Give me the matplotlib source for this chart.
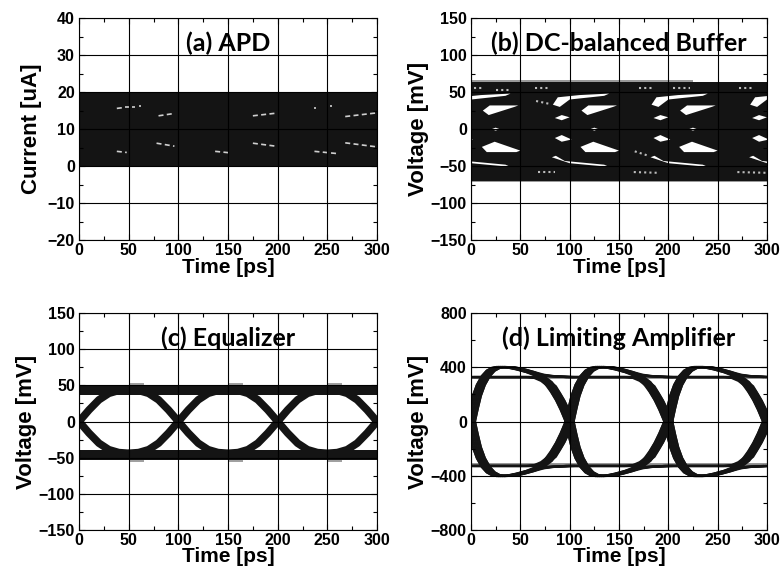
import numpy as np
import matplotlib.pyplot as plt
from matplotlib.ticker import MultipleLocator

plt.rcParams['font.family'] = ['Liberation Sans', 'DejaVu Sans']
plt.rcParams['font.weight'] = 'bold'

# axis ticks / texts
time_ticks = [0, 50, 100, 150, 200, 250, 300]
apd_ticks = [-20, -10, 0, 10, 20, 30, 40]
mv_ticks = [-150, -100, -50, 0, 50, 100, 150]
la_ticks = [-800, -400, 0, 400, 800]
titles = ["(a) APD", "(b) DC-balanced Buffer", "(c) Equalizer", "(d) Limiting Amplifier"]
ylabels = ["Current [uA]", "Voltage [mV]", "Voltage [mV]", "Voltage [mV]"]

# (a) APD - closed eye, one dark band with a few light specks
apd_band = [0, 20]
apd_speck_t = [[38, 44], [46, 50], [53, 56], [60, 62], [80, 95], [78, 96], [38, 48],
               [137, 152], [175, 198], [175, 198], [237, 239], [253, 255],
               [268, 300], [268, 300], [237, 260]]
apd_speck_v = [[15.6, 15.8], [16, 16], [16.1, 16.1], [16.3, 16.3], [13.6, 14.2], [6.2, 5.4], [4, 3.7],
               [4, 3.6], [13.6, 14.3], [6.2, 5.4], [15.8, 15.8], [16.2, 16.2],
               [13.4, 14.4], [6.3, 5.2], [4, 3.4]]

# (b) DC-balanced buffer - dark band with openings repeating every UI
buf_band = [-70, 63]
buf_offsets = [-100, 0, 100, 200]
buf_hole_t = [[12, 19, 48, 44, 18],        # upper wedge
              [11, 24, 50, 46, 16],        # lower wedge
              [83, 88, 110, 140, 135, 100, 90],
              [82, 100, 140, 135, 95, 86],
              [85, 92, 100, 92],
              [85, 92, 102, 92],
              [21, 25, 29, 25]]
buf_hole_v = [[25, 32, 32, 30, 19],
              [-24, -17, -29, -31, -31],
              [33, 43, 46, 48, 45, 40, 30],
              [-38, -46, -51, -48, -43, -36],
              [15, 19, 16, 12],
              [-12, -8, -14, -17],
              [0, 2, 0, -2]]
# faint dotted traces inside the band
buf_dot_t = [[3, 12], [25, 40], [65, 80], [170, 185], [205, 222], [272, 285],
             [68, 85], [165, 190], [270, 300], [66, 80], [166, 180]]
buf_dot_v = [[56, 56], [53, 53], [56, 56], [55, 55], [56, 56], [55, 55],
             [-58, -58], [-58, -59], [-58, -59], [38, 34], [-30, -36]]

# (c) equalizer - open eye, crossings every 100 ps
eq_rail_hi = [37, 50]
eq_rail_lo = [-53, -40]
eq_bump_t = [50, 150, 250]
eq_cross = [0, 100, 200, 300]
eq_edge_dt = [-50, -40, -30, -20, -10, 0, 10, 20, 30, 40, 50]
eq_edge_v = [-44, -43, -39, -30, -16, 0, 16, 30, 39, 43, 44]

# (d) limiting amplifier - one UI shapes (positive bit, negated for zeros)
la_ui_start = [0, 100, 200]
la_jitter = [-4, -2, 0, 2, 4]
la_rail = 328
la_lead_dt = [0, 3, 6, 10, 15, 20, 25, 30, 40, 50, 60, 70, 80, 100]
la_lead_v = [0, 100, 190, 270, 335, 375, 395, 402, 400, 385, 365, 345, 335, 328]
la_pulse_dt = [0, 3, 6, 10, 15, 20, 25, 30, 40, 50, 60, 70, 78, 85, 90, 95, 100]
la_pulse_v = [0, 100, 190, 270, 335, 375, 395, 402, 400, 385, 365, 335, 290, 220, 160, 85, 0]
la_trail_dt = [0, 60, 68, 75, 82, 87, 91, 95, 100]
la_trail_v = [328, 328, 322, 300, 260, 200, 150, 90, 0]

ink = '#141414'


def style(ax, yticks, title, ylabel, ylab_x):
    ax.set_xlim(0, 300)
    ax.set_ylim(yticks[0], yticks[-1])
    ax.set_xticks(time_ticks)
    ax.set_yticks(yticks)
    ax.xaxis.set_minor_locator(MultipleLocator(25))
    ax.yaxis.set_minor_locator(MultipleLocator((yticks[1] - yticks[0]) / 2))
    ax.tick_params(which='both', direction='in', top=True, right=True, labelsize=11.5, pad=3)
    ax.tick_params(axis='x', pad=2)
    ax.tick_params(which='major', length=4, width=0.8)
    ax.tick_params(which='minor', length=3, width=0.8)
    ax.grid(True, color='black', lw=0.8)
    ax.set_axisbelow(False)
    ax.set_xlabel('Time [ps]', fontsize=15, fontweight='bold')
    ax.set_ylabel(ylabel, fontsize=16, fontweight='bold')
    ax.xaxis.set_label_coords(0.5, -0.08)
    ax.yaxis.set_label_coords(ylab_x, 0.5)
    ax.text(0.5, 0.885, title, transform=ax.transAxes, ha='center', va='center',
            fontsize=18, fontweight='bold', family='Lato', zorder=5)


fig = plt.figure(figsize=(7.83, 5.83), dpi=100)
ax_a = fig.add_axes([0.101, 0.588, 0.3805, 0.381])
ax_b = fig.add_axes([0.6015, 0.588, 0.378, 0.381])
ax_c = fig.add_axes([0.101, 0.091, 0.3805, 0.372])
ax_d = fig.add_axes([0.6015, 0.091, 0.378, 0.372])

# (a)
ax_a.fill_between([0, 300], apd_band[0], apd_band[1], color=ink, lw=0, zorder=1)
for t, v in zip(apd_speck_t, apd_speck_v):
    ax_a.plot(t, v, color='#d0d0d0', lw=1.2, ls=(0, (3, 2)), zorder=1.5)
style(ax_a, apd_ticks, titles[0], ylabels[0], -0.124)

# (b)
ax_b.fill_between([0, 300], buf_band[0], buf_band[1], color=ink, lw=0, zorder=1)
ax_b.fill_between([0, 225], buf_band[1], buf_band[1] + 3, color='#9a9a9a', lw=0, zorder=1)
ax_b.fill_between([0, 300], buf_band[0] - 2, buf_band[0], color='#9a9a9a', lw=0, zorder=1)
for off in buf_offsets:
    for t, v in zip(buf_hole_t, buf_hole_v):
        ax_b.fill(np.array(t) + off, v, color='white', lw=0, zorder=1.5)
for t, v in zip(buf_dot_t, buf_dot_v):
    ax_b.plot(t, v, color='#bdbdbd', lw=1.5, ls=(0, (1, 1.5)), zorder=1.5)
style(ax_b, mv_ticks, titles[1], ylabels[1], -0.142)

# (c)
ax_c.fill_between([0, 300], eq_rail_hi[0], eq_rail_hi[1], color=ink, lw=0, zorder=1)
ax_c.fill_between([0, 300], eq_rail_lo[0], eq_rail_lo[1], color=ink, lw=0, zorder=1)
for b in eq_bump_t:
    ax_c.fill_between([b, b + 15], eq_rail_hi[1], eq_rail_hi[1] + 3, color='#a0a0a0', lw=0, zorder=1)
    ax_c.fill_between([b, b + 15], eq_rail_lo[0] - 3, eq_rail_lo[0], color='#a0a0a0', lw=0, zorder=1)
for c in eq_cross:
    for sign in (1, -1):
        ax_c.plot(c + np.array(eq_edge_dt), sign * np.array(eq_edge_v),
                  color=ink, lw=5.5, solid_capstyle='butt', zorder=2)
style(ax_c, mv_ticks, titles[2], ylabels[2], -0.141)

# (d)
ax_d.axhline(la_rail, color='#8c8c8c', lw=2, zorder=1)
ax_d.axhline(-la_rail + 15, color='#8c8c8c', lw=2, zorder=1)
for c in la_ui_start:
    for j in la_jitter:
        for sign in (1, -1):
            for dt, v in ((la_lead_dt, la_lead_v), (la_pulse_dt, la_pulse_v),
                          (la_trail_dt, la_trail_v)):
                ax_d.plot(c + j + np.array(dt), sign * np.array(v), color=ink, lw=1.6, zorder=2)
style(ax_d, la_ticks, titles[3], ylabels[3], -0.142)

fig.savefig('out.png', dpi=100)
